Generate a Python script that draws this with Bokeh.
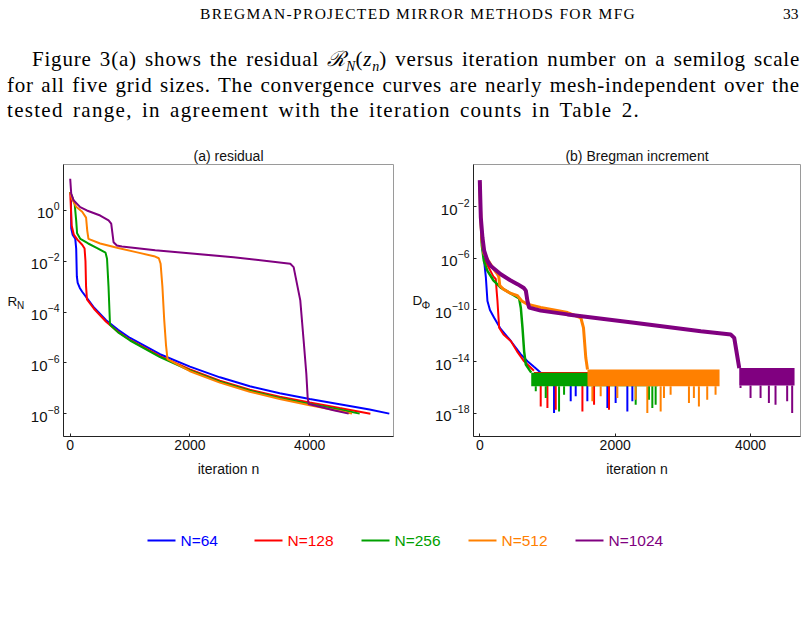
import numpy as np
from bokeh.plotting import figure
from bokeh.layouts import column, row
from bokeh.models import Div, Range1d, FixedTicker, ColumnDataSource
from bokeh.core.properties import value
from bokeh.embed import file_html
from bokeh.resources import INLINE

# ---------------- data ----------------
series_names = ["N=64", "N=128", "N=256", "N=512", "N=1024"]
series_colors = ["#0000ff", "#ff0000", "#00a000", "#ff8000", "#800080"]

# (a) residual R_N : iteration n and log10(R_N) breakpoints
res_n = {
    "N=64":   [0, 12, 17, 40, 84, 100, 111, 125, 160, 200, 280, 400, 600, 800, 1000, 1500, 2000, 2500, 3000, 3500, 4000, 4500, 5000, 5330],
    "N=128":  [0, 25, 60, 120, 200, 240, 255, 265, 280, 400, 600, 800, 1000, 1500, 2000, 2500, 3000, 3500, 4000, 4500, 5014],
    "N=256":  [0, 40, 75, 100, 115, 170, 300, 450, 590, 615, 640, 665, 800, 1000, 1500, 2000, 2500, 3000, 3500, 4000, 4500, 4835],
    "N=512":  [0, 30, 100, 200, 265, 285, 305, 500, 800, 1100, 1400, 1480, 1510, 1540, 1570, 1600, 1625, 2000, 2500, 3000, 3500, 4000, 4500, 4707],
    "N=1024": [0, 17, 56, 167, 278, 501, 641, 685, 724, 780, 863, 1420, 2729, 3676, 3732, 3843, 3899, 3944, 3966, 3983, 4200, 4400, 4651],
}
res_log = {
    "N=64":   [0.72, 0.6, -0.7, -0.95, -1.11, -1.5, -2.6, -2.85, -3.05, -3.2, -3.45, -3.83, -4.32, -4.7, -5.02, -5.66, -6.15, -6.57, -6.92, -7.2, -7.42, -7.63, -7.84, -8.0],
    "N=128":  [0.72, -0.6, -0.95, -1.15, -1.35, -1.5, -2.0, -3.0, -3.5, -3.88, -4.38, -4.78, -5.1, -5.74, -6.26, -6.7, -7.06, -7.33, -7.56, -7.78, -8.0],
    "N=256":  [0.72, 0.5, 0.25, -0.4, -0.9, -1.12, -1.3, -1.48, -1.66, -1.9, -3.0, -4.5, -4.8, -5.12, -5.77, -6.3, -6.74, -7.1, -7.38, -7.62, -7.84, -8.0],
    "N=512":  [0.72, 0.45, 0.15, -0.05, -0.28, -0.8, -1.12, -1.3, -1.48, -1.64, -1.8, -1.88, -2.1, -3.0, -4.3, -5.3, -5.85, -6.33, -6.78, -7.14, -7.42, -7.67, -7.9, -8.0],
    "N=1024": [1.25, 0.66, 0.4, 0.13, 0.0, -0.2, -0.39, -0.52, -1.25, -1.38, -1.42, -1.57, -1.84, -2.1, -2.23, -3.54, -5.12, -6.43, -7.35, -7.62, -7.75, -7.87, -8.0],
}

# (b) Bregman increment D_Phi : smooth part, iteration n and log10(D) breakpoints
inc_n = {
    "N=64":   [0, 10, 25, 40, 60, 90, 113, 150, 212, 300, 458, 600, 704, 800, 901],
    "N=128":  [0, 10, 30, 64, 120, 200, 236, 250, 261, 286, 350, 458, 550, 655, 800],
    "N=256":  [0, 10, 30, 60, 113, 200, 310, 450, 581, 606, 631, 655, 680, 760],
    "N=512":  [0, 10, 30, 60, 113, 200, 261, 280, 295, 350, 450, 557, 620, 704, 900, 1100, 1296, 1493, 1532, 1566, 1591],
    "N=1024": [0, 8, 15, 39, 64, 113, 163, 310, 450, 557, 650, 680, 704, 729, 900, 1296, 2281, 3266, 3709, 3759, 3808, 3833],
}
inc_log = {
    "N=64":   [-0.1, -2.0, -4.0, -5.2, -6.0, -7.5, -9.3, -10.0, -10.6, -11.4, -12.4, -13.4, -13.97, -14.4, -14.85],
    "N=128":  [-0.1, -2.2, -4.8, -5.94, -6.6, -7.4, -7.6, -8.6, -9.3, -11.38, -11.9, -12.4, -13.2, -13.97, -14.7],
    "N=256":  [-0.1, -2.2, -5.0, -6.2, -6.97, -7.7, -8.27, -8.7, -9.1, -9.82, -11.38, -13.2, -14.23, -14.85],
    "N=512":  [-0.1, -2.2, -4.5, -5.6, -6.07, -6.8, -7.23, -7.4, -8.1, -8.4, -8.7, -8.9, -9.3, -9.56, -9.8, -10.0, -10.2, -10.6, -11.38, -13.7, -14.6],
    "N=1024": [0.05, -1.5, -2.83, -4.38, -5.4, -6.2, -6.6, -7.23, -7.7, -8.0, -8.3, -8.5, -9.3, -9.82, -10.05, -10.34, -10.99, -11.64, -11.9, -12.16, -13.7, -14.5],
}
# round-off floor: start/end iteration and log10 limits of its dense core
floor_start = {"N=64": 901, "N=128": 800, "N=256": 760, "N=512": 1591, "N=1024": 3833}
floor_end = {"N=64": 2300, "N=128": 2000, "N=256": 2630, "N=512": 3542, "N=1024": 4650}
floor_top = {"N=64": -14.85, "N=128": -14.8, "N=256": -14.85, "N=512": -14.6, "N=1024": -14.48}
floor_bottom = {"N=64": -15.8, "N=128": -15.8, "N=256": -15.9, "N=512": -15.9, "N=1024": -15.85}
# deepest excursions below the floor
spike_n = {
    "N=64":   [1097, 1343, 1417, 1589, 1885, 2007, 2180, 2254],
    "N=128":  [900, 999, 1122, 1516, 1688, 1909],
    "N=256":  [827, 974, 1171, 1245, 2303, 2499, 2549, 2598],
    "N=512":  [1663, 1786, 2032, 2303, 2475, 2672, 2721, 2819, 3090, 3163, 3237, 3360, 3483],
    "N=1024": [3852, 4000, 4148, 4271, 4369, 4541, 4615],
}
spike_log = {
    "N=64":   [-17.98, -17.07, -16.68, -17.07, -17.59, -17.2, -17.85, -17.07],
    "N=128":  [-17.46, -17.59, -17.72, -17.85, -17.33, -17.72],
    "N=256":  [-16.29, -16.81, -17.85, -16.55, -17.33, -16.94, -17.59, -17.33],
    "N=512":  [-17.07, -16.68, -16.81, -16.94, -17.98, -17.85, -16.81, -16.55, -17.2, -16.81, -17.46, -16.94, -16.55],
    "N=1024": [-16.03, -16.81, -16.81, -17.2, -17.33, -17.07, -17.98],
}

res_ticks = [1e-8, 1e-6, 1e-4, 1e-2, 1.0]
inc_ticks = [1e-18, 1e-14, 1e-10, 1e-6, 1e-2]
iter_ticks = [0, 2000, 4000]

SANS = "Liberation Sans"
SERIF = "Liberation Serif"
INK = "#111111"
BORDER_TOP, BORDER_BOTTOM, PANEL_H = 24, 44, 340


def style_panel(p, yticks, title):
    p.title.text = title
    p.title.align = "center"
    p.title.text_font = SANS
    p.title.text_font_size = "14px"
    p.title.text_font_style = "normal"
    p.title.text_color = INK
    p.title.standoff = 1
    p.xaxis.ticker = FixedTicker(ticks=iter_ticks)
    p.yaxis.ticker = FixedTicker(ticks=yticks)
    for ax in (p.xaxis[0], p.yaxis[0]):
        ax.major_tick_in = 3
        ax.major_tick_out = 0
        ax.minor_tick_in = 0
        ax.minor_tick_out = 0
        ax.axis_line_color = "#222222"
        ax.major_tick_line_color = "#222222"
        ax.major_label_text_font = SANS
        ax.major_label_text_color = INK
    p.xaxis.major_label_text_font_size = "14px"
    p.xaxis.major_label_standoff = 3
    p.yaxis.major_label_text_font_size = "15px"
    p.yaxis.major_label_standoff = 4
    p.xaxis.axis_label = "iteration n"
    p.xaxis.axis_label_text_font = SANS
    p.xaxis.axis_label_text_font_size = "14px"
    p.xaxis.axis_label_text_font_style = "normal"
    p.xaxis.axis_label_text_color = INK
    p.xaxis.axis_label_standoff = 8
    p.xgrid.visible = False
    p.ygrid.visible = False
    p.outline_line_color = "#9a9a9a"
    p.outline_line_width = 1
    p.background_fill_color = "white"
    p.border_fill_color = "white"


def ylabel_strip(width, main, sub, main_x, sub_x, main_y, sub_y, sub_size):
    """Narrow strip to the left of a panel holding its horizontal y-axis label.
    Its frame spans the same rows as the panel frame; y is measured in pixels
    from the top of the strip."""
    s = figure(width=width, height=PANEL_H, x_range=Range1d(0, width),
               y_range=Range1d(PANEL_H - BORDER_BOTTOM, BORDER_TOP),
               output_backend="svg", toolbar_location=None,
               x_axis_location=None, y_axis_location=None,
               min_border_left=0, min_border_right=0,
               min_border_top=BORDER_TOP, min_border_bottom=BORDER_BOTTOM)
    s.outline_line_color = None
    s.xgrid.visible = False
    s.ygrid.visible = False
    s.text(x=[main_x], y=[main_y], text=[main], text_font=value(SANS), text_font_size="13.5px",
           text_color=INK, text_baseline="middle", text_align="left")
    s.text(x=[sub_x], y=[sub_y], text=[sub], text_font=value(SANS), text_font_size=sub_size,
           text_color=INK, text_baseline="middle", text_align="left")
    return s


# ---------------- (a) residual ----------------
xa = Range1d(-112, 5400)
ya = Range1d(10 ** -8.9, 10 ** 1.81)
pa = figure(width=375, height=PANEL_H, x_range=xa, y_range=ya, y_axis_type="log",
            output_backend="svg", toolbar_location=None,
            min_border_left=38, min_border_right=7,
            min_border_top=BORDER_TOP, min_border_bottom=BORDER_BOTTOM)
style_panel(pa, res_ticks, "(a) residual")
for name, color in zip(series_names, series_colors):
    pa.line(res_n[name], np.power(10.0, res_log[name]), line_color=color, line_width=2)
lab_a = ylabel_strip(25, "R", "N", 7, 16.5, 161, 165, "10px")

# ---------------- (b) Bregman increment ----------------
xb = Range1d(-93, 4738)
yb = Range1d(10 ** -19.79, 10 ** 1.26)
pb = figure(width=377, height=PANEL_H, x_range=xb, y_range=yb, y_axis_type="log",
            output_backend="svg", toolbar_location=None,
            min_border_left=43, min_border_right=7,
            min_border_top=BORDER_TOP, min_border_bottom=BORDER_BOTTOM)
style_panel(pb, inc_ticks, "(b) Bregman increment")
line_w = {"N=64": 2, "N=128": 2, "N=256": 2.5, "N=512": 3, "N=1024": 4}
for name, color in zip(series_names, series_colors):
    pb.line(inc_n[name], np.power(10.0, inc_log[name]), line_color=color, line_width=line_w[name])
    fx = [floor_start[name], floor_end[name]]
    pb.varea(x=fx, y1=[10 ** floor_bottom[name]] * 2, y2=[10 ** floor_top[name]] * 2,
             fill_color=color)
    sn = spike_n[name]
    pb.segment(x0=sn, y0=[10 ** floor_bottom[name]] * len(sn), x1=sn,
               y1=np.power(10.0, spike_log[name]), line_color=color, line_width=2)
lab_b = ylabel_strip(30, "D", "\u03a6", 12, 21, 160, 164, "11px")

# ---------------- legend strip ----------------
leg = figure(width=807, height=139, x_range=Range1d(0, 807), y_range=Range1d(139, 0),
             output_backend="svg", toolbar_location=None,
             x_axis_location=None, y_axis_location=None, min_border=0)
leg.outline_line_color = None
leg.xgrid.visible = False
leg.ygrid.visible = False
leg_x = [147 + 107 * i for i in range(len(series_names))]
src = ColumnDataSource(dict(x0=leg_x, x1=[x + 28 for x in leg_x], xt=[x + 33 for x in leg_x],
                            y=[60] * len(leg_x), label=series_names, color=series_colors))
leg.segment(x0="x0", y0="y", x1="x1", y1="y", line_color="color", line_width=2, source=src)
leg.text(x="xt", y="y", text="label", text_color="color", text_font_size="15.5px",
         text_font=value(SANS), text_baseline="middle", text_align="left", source=src)

# ---------------- page text ----------------
sub = "position:relative;top:5px;font-size:14px;line-height:0;letter-spacing:0;"
line = "position:absolute;white-space:nowrap;text-align:justify;text-align-last:justify;"
header_html = f"""
<div style="position:relative;width:807px;height:140px;font-family:'{SERIF}',serif;color:#000;">
  <div style="position:absolute;left:200px;top:3px;font-size:15.5px;letter-spacing:1.3px;white-space:nowrap;">BREGMAN-PROJECTED MIRROR METHODS FOR MFG</div>
  <div style="position:absolute;left:783px;top:3px;font-size:15.5px;">33</div>
  <div style="font-size:21px;line-height:25px;">
    <div style="{line}left:32px;top:47px;width:768px;letter-spacing:0.8px;">Figure 3(a) shows the residual <i>&#8475;</i><span style="{sub}"><i>N</i></span>(<i>z</i><span style="{sub}"><i>n</i></span>) versus iteration number on a semilog scale</div>
    <div style="{line}left:7px;top:73px;width:793px;letter-spacing:0.8px;">for all five grid sizes. The convergence curves are nearly mesh-independent over the</div>
    <div style="{line}left:7px;top:98px;width:633px;letter-spacing:1.3px;">tested range, in agreement with the iteration counts in Table 2.</div>
  </div>
</div>
"""
header = Div(text=header_html, width=807, height=140, margin=(0, 0, 0, 0))

page = column(header, row(lab_a, pa, lab_b, pb, spacing=0), leg, spacing=0)
open("out.html", "w").write(file_html(page, INLINE))
